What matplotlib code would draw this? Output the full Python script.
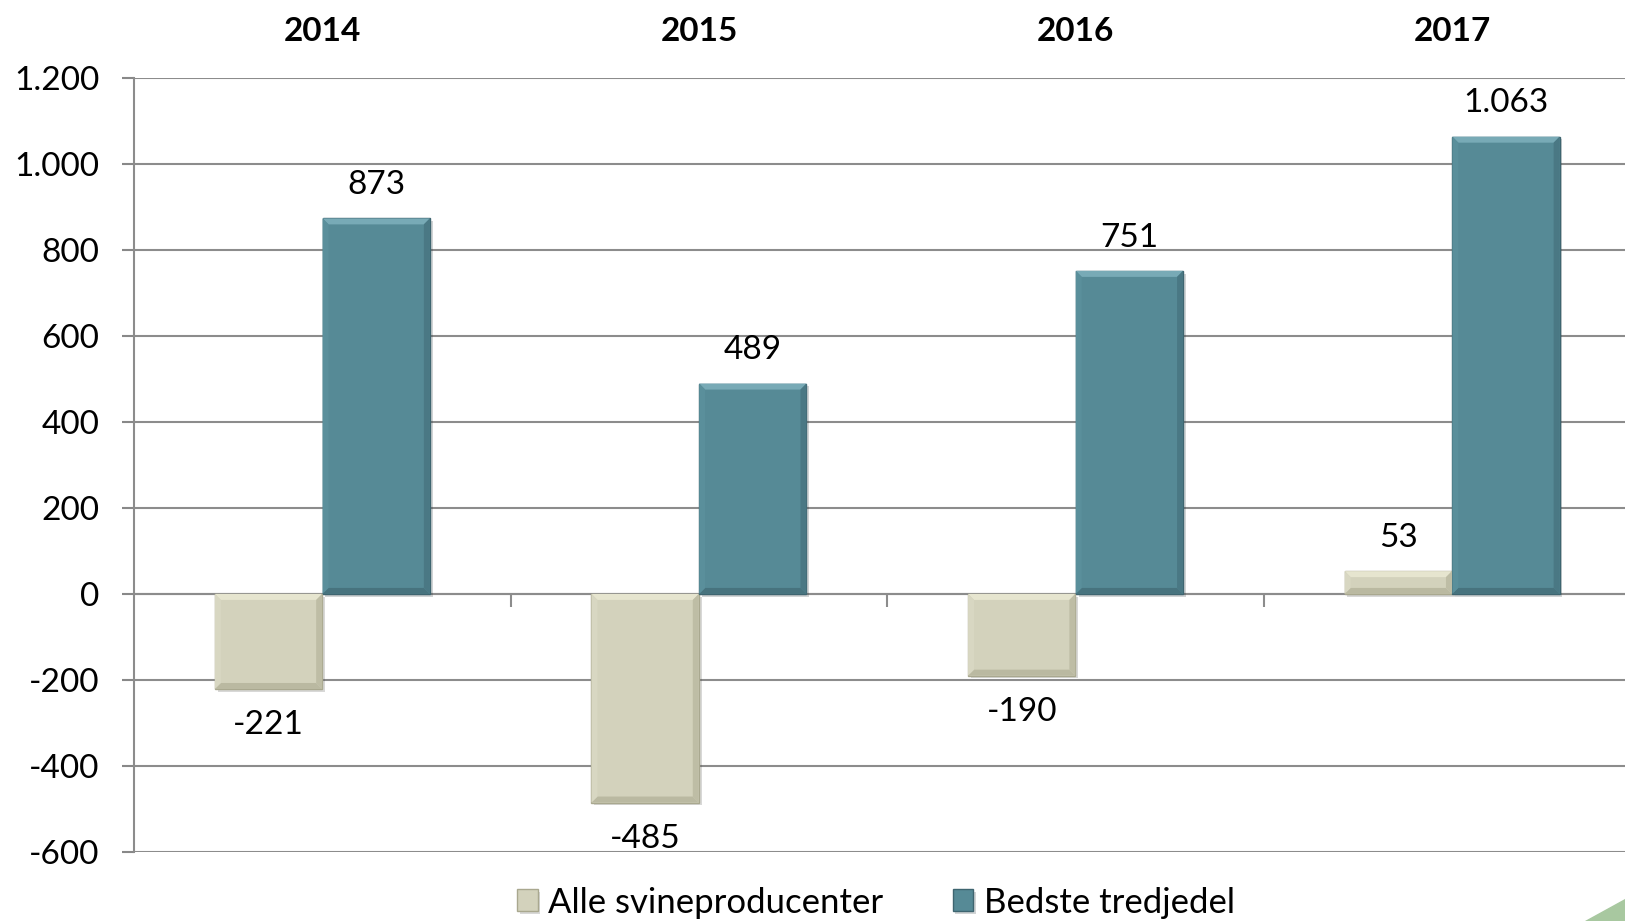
import matplotlib
matplotlib.use('Agg')
from matplotlib import pyplot as plt
from matplotlib import patheffects as pe
from matplotlib.ticker import FuncFormatter, FixedLocator
from matplotlib.patches import Polygon

years = ['2014', '2015', '2016', '2017']
alle = [-221, -485, -190, 53]
bedste = [873, 489, 751, 1063]
series_names = ['Alle svineproducenter', 'Bedste tredjedel']

beige = '#D3D2BC'
teal = '#568A96'

plt.rcParams['font.family'] = ['Lato', 'DejaVu Sans']

fig = plt.figure(figsize=(16.25, 9.21), dpi=100)
ax = fig.add_axes([0.0825, 0.0749, 0.927, 0.8407])


def dk(v):
    # thousands separator with a dot, like the Danish original
    return f'{v:,.0f}'.replace(',', '.')


width = 0.285
offset = 0.143
x = range(len(years))
shadow = [pe.SimplePatchShadow(offset=(2, -2), alpha=0.2), pe.Normal()]

b1 = ax.bar([i - offset for i in x], alle, width, color=beige,
            edgecolor='#A9A88F', linewidth=1.0, label=series_names[0], zorder=3)
b2 = ax.bar([i + offset for i in x], bedste, width, color=teal,
            edgecolor='#3E6570', linewidth=1.0, label=series_names[1], zorder=3)
for bars in (b1, b2):
    for p in bars:
        p.set_path_effects(shadow)

# value labels
for bars, vals in ((b1, alle), (b2, bedste)):
    for p, v in zip(bars, vals):
        cx = p.get_x() + p.get_width() / 2
        dy = 24 if v >= 0 else -26
        ax.annotate(dk(v), (cx, v), xytext=(0, dy), textcoords='offset points',
                    ha='center', va='center', fontsize=24, color='black')

ax.set_xlim(-0.5, 3.5)
ax.set_ylim(-600, 1200)
ax.set_yticks(range(-600, 1201, 200))
ax.yaxis.set_major_formatter(FuncFormatter(lambda v, pos: dk(v)))
ax.tick_params(axis='y', labelsize=24, length=9, width=1.5, color='#888888', pad=16)
ax.grid(axis='y', color='#8C8C8C', linewidth=1.5, zorder=0)

# category boundaries as ticks on the zero line
ax.xaxis.set_major_locator(FixedLocator([0.5, 1.5, 2.5]))
ax.set_xticklabels([])
ax.spines['bottom'].set_position(('data', 0))
ax.spines['bottom'].set_color('#8C8C8C')
ax.spines['bottom'].set_linewidth(1.5)
ax.tick_params(axis='x', length=9, width=1.5, color='#8C8C8C', direction='out')
ax.spines['left'].set_color('#8C8C8C')
ax.spines['left'].set_linewidth(1.5)
ax.spines['top'].set_visible(False)
ax.spines['right'].set_visible(False)


# bevelled edges on the bars, drawn in pixels
def bevel(p, top, left, right, bottom, d=6):
    x0, y0, x1, y1 = p.get_window_extent().extents
    d = min(d, (y1 - y0) / 3)
    faces = [
        ([(x0, y1), (x1, y1), (x1 - d, y1 - d), (x0 + d, y1 - d)], top),
        ([(x0, y0), (x1, y0), (x1 - d, y0 + d), (x0 + d, y0 + d)], bottom),
        ([(x0, y0), (x0 + d, y0 + d), (x0 + d, y1 - d), (x0, y1)], left),
        ([(x1, y0), (x1 - d, y0 + d), (x1 - d, y1 - d), (x1, y1)], right),
    ]
    for pts, c in faces:
        fig.patches.append(Polygon(pts, closed=True, transform=None,
                                   facecolor=c, edgecolor='none', zorder=4))


for p in b1:
    bevel(p, '#E6E5CF', '#D8D7C2', '#BEBDA5', '#BAB9A1')
for p in b2:
    bevel(p, '#78AAB6', '#5A8F9B', '#4A7884', '#47737E')

# year labels on top
for i, y in enumerate(years):
    ax.text(i, 1.06, y, transform=ax.get_xaxis_transform(), ha='center',
            va='center', fontsize=24, fontweight='bold')

ax.legend(loc='center', bbox_to_anchor=(0.539, 0.02), bbox_transform=fig.transFigure,
          ncol=2, frameon=False, fontsize=25, handlelength=0.6, handleheight=0.6,
          handletextpad=0.3, columnspacing=2.0)

# corner of a logo in the lower right
fig.patches.append(Polygon([(1585, 0), (1625, 0), (1625, 22)],
                           closed=True, transform=None, color='#A8C8A0'))

fig.savefig('out.png', dpi=100)
